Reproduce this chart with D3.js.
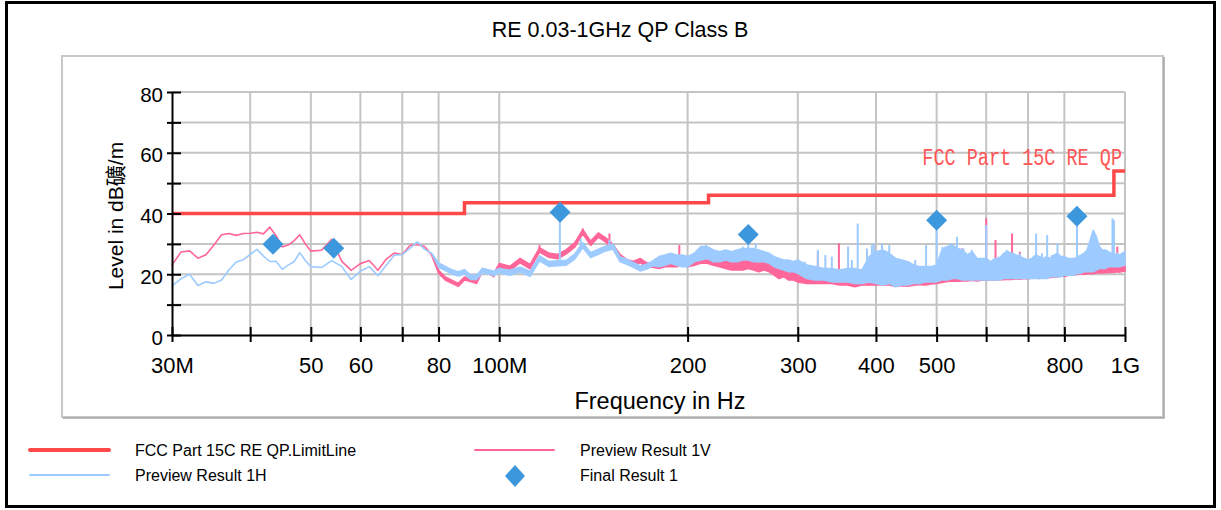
<!DOCTYPE html>
<html>
<head>
<meta charset="utf-8">
<script src="https://cdn.jsdelivr.net/npm/d3@7"></script>
<style>
  body { margin: 0; background: #fff; }
  text { font-family: "Liberation Sans", Arial, "Noto Sans CJK SC", sans-serif; fill: #000; }
</style>
</head>
<body>
<svg id="chart" width="1221" height="510"></svg>
<script>
// Sweep frequencies (MHz) shared by both preview scans
const sweepMHz = [
  30,31,32,33,34,35,36,37,38,39,40,41,42,43,44,45,46,47,48,49,50,
  52,54,56,58,60,62,64,66,68,70,72,74,76,78,
  80,82,84,86,88,90,92,94,96,98,100,
  104,108,112,116,120,124,128,132,136,140,144,148,152,156,160,164,168,172,176,
  180,184,188,192,196,200,
  205,210,215,220,225,230,235,240,245,250,255,260,265,270,275,280,285,290,295,300,
  310,320,330,340,350,360,370,380,390,400,410,420,
  430,440,450,460,470,480,490,500,510,520,530,540,550,560,570,580,590,600,
  610,620,630,640,650,660,670,680,690,700,710,720,730,740,750,760,770,780,790,800,
  810,820,830,840,850,860,870,880,890,900,910,920,930,940,950,960,970,980,990,1000
];

// Preview Result 1V: lower / upper edge of the trace (dBuV/m)
const vLow = [
  23.0,27.3,27.7,25.3,26.4,29.6,33.0,33.4,32.8,33.4,33.5,33.8,33.3,35.5,32.7,29.0,29.6,31.0,33.0,30.0,27.6,
  27.9,31.5,24.3,21.3,23.5,24.5,21.3,25.0,27.0,26.5,29.5,29.8,29.1,26.3,
  20.3,18.1,17.0,16.0,18.1,17.6,17.0,20.9,20.3,19.2,22.5,
  21.2,23.8,21.8,27.3,25.6,25.1,26.7,28.9,33.3,29.5,32.2,30.6,28.4,25.1,23.4,22.9,23.8,22.3,22.3,
  21.9,22.5,22.5,22.5,23.0,22.5,
  23.0,23.6,23.6,23.0,22.5,21.9,21.4,21.4,21.4,21.9,21.4,20.8,21.4,20.8,19.7,18.6,19.2,18.1,18.1,17.5,
  17.0,17.0,17.0,17.0,16.5,16.5,15.9,16.5,16.5,16.5,16.5,16.5,
  16.0,16.2,16.1,16.4,16.6,16.5,16.8,17.0,17.3,17.6,17.8,17.7,17.9,17.8,18.0,17.8,18.0,18.1,
  18.2,18.0,18.3,18.2,18.4,18.3,18.5,18.4,18.6,18.5,18.7,18.8,18.6,18.9,19.0,18.9,19.2,19.1,19.4,19.3,
  19.6,19.8,19.7,20.0,20.1,20.0,20.2,20.3,20.2,20.4,20.5,20.4,20.6,20.5,20.7,20.6,20.8,20.7,20.9,21.0
];
const vHigh = [
  23.0,27.3,27.7,25.3,26.4,29.6,33.0,33.4,32.8,33.4,33.5,33.8,33.3,35.5,32.7,29.0,29.6,31.0,33.0,30.0,27.6,
  27.9,31.5,24.3,21.3,23.5,24.5,21.3,25.0,27.0,26.5,29.5,29.8,29.1,26.3,
  21.3,19.1,18.0,17.0,19.1,18.6,18.0,21.9,21.3,20.2,23.5,
  22.6,25.2,23.2,28.7,27.0,26.5,28.1,30.3,34.7,30.9,33.6,32.0,29.8,26.5,24.8,24.3,25.2,23.7,23.7,
  24.7,25.2,24.7,25.2,25.8,24.7,
  25.8,26.3,26.3,25.8,25.2,24.7,24.1,24.1,24.7,24.7,24.1,23.6,24.1,23.6,22.5,21.4,21.9,21.4,20.8,20.3,
  19.7,19.7,19.2,19.7,19.2,19.2,18.6,18.6,18.6,19.2,19.2,18.6,
  19.4,19.2,19.5,19.8,19.6,20.0,19.9,20.3,20.6,21.0,20.8,21.2,21.5,21.0,21.3,21.1,21.4,21.6,
  21.5,21.8,21.6,22.0,22.3,22.1,21.9,22.2,22.0,21.8,22.0,22.2,21.9,22.1,22.4,22.2,22.5,22.3,22.6,22.4,
  22.7,22.9,22.6,23.0,23.2,23.4,23.1,23.5,23.6,23.4,23.7,23.5,23.8,23.6,23.9,23.7,24.0,23.8,24.1,24.2
];

// Preview Result 1H: lower / upper edge of the trace (dBuV/m)
const hLow = [
  16.2,18.5,20.0,16.3,17.5,17.0,18.1,21.5,24.0,24.8,26.5,28.2,26.0,24.2,24.3,21.6,23.0,24.1,27.1,24.5,22.5,
  22.2,24.5,22.6,18.3,21.0,22.5,19.5,23.0,26.3,26.5,28.5,30.7,28.2,26.9,
  22.3,21.2,20.1,19.4,20.1,18.3,18.3,20.5,20.1,19.6,20.5,
  19.7,20.8,19.3,24.4,22.6,22.8,23.0,25.0,28.8,25.5,26.6,27.7,28.3,24.1,23.3,22.2,21.1,21.7,22.8,
  22.5,23.0,23.6,23.0,22.5,22.5,
  24.1,24.7,25.2,24.1,24.1,24.7,24.1,24.1,24.7,24.7,24.1,24.1,24.1,23.6,22.5,21.9,21.4,20.8,20.8,20.3,
  18.6,18.1,18.1,17.5,17.5,17.5,17.0,17.0,17.5,17.0,16.5,17.0,
  15.9,16.5,16.5,17.0,17.0,17.5,17.5,17.5,18.1,18.1,18.6,18.6,18.1,18.1,18.1,18.1,18.1,18.1,
  18.1,18.1,18.1,18.6,18.6,18.6,18.6,18.6,18.6,18.6,18.6,18.6,18.6,18.6,18.6,19.2,19.2,19.2,19.2,19.7,
  19.7,19.7,19.7,20.3,20.3,20.8,20.8,20.8,20.8,21.4,21.9,21.9,21.9,22.5,22.5,22.5,22.5,22.5,22.8,23.0
];
const hHigh = [
  16.2,18.5,20.0,16.3,17.5,17.0,18.1,21.5,24.0,24.8,26.5,28.2,26.0,24.2,24.3,21.6,23.0,24.1,27.1,24.5,22.5,
  22.2,24.5,22.6,18.3,21.0,22.5,19.5,23.0,26.3,26.5,28.5,30.7,28.2,26.9,
  23.7,22.6,21.5,20.8,21.5,19.7,19.7,21.9,21.5,21.0,21.9,
  21.3,22.4,20.9,26.0,24.2,24.4,24.6,26.6,30.4,27.1,28.2,29.3,29.9,25.7,24.9,23.8,22.7,23.3,24.4,
  25.8,26.3,26.9,26.3,26.3,25.8,
  26.9,29.1,29.1,28.0,27.4,28.0,27.4,28.0,28.5,28.5,28.5,28.0,27.4,26.9,25.8,25.2,24.7,24.7,24.1,24.7,
  23.0,22.5,21.9,21.9,21.4,21.9,21.9,21.4,25.8,27.4,28.0,26.9,
  25.2,24.7,24.1,23.0,22.5,22.5,22.5,23.0,28.0,29.1,29.6,28.5,28.0,26.3,27.4,25.2,25.2,25.2,
  24.1,25.2,25.2,26.9,27.4,26.9,26.3,25.8,25.2,24.7,25.2,26.3,25.8,25.2,25.8,25.2,26.3,26.9,25.8,25.8,
  25.2,25.2,25.2,25.8,26.3,26.9,28.0,31.3,34.5,32.3,29.1,28.0,28.0,27.4,26.9,25.8,26.9,26.3,26.9,27.4
];

// Narrow peaks: [MHz, base dB, peak dB]
const vSpikes = [
  [116,28.0,29.6],[136,34.0,35.1],[144,32.9,33.4],[150,31.0,33.4],
  [194,25.0,29.6],[323,19.5,27.5],[349,19.2,30.2],[549,21.5,28.5],[600,21.6,38.4],
  [621,21.8,31.3],[660,22.1,33.4],[679,22.2,27.4],[972,24.0,29.1]
];
const hSpikes = [
  [125,24.8,40.4],[135,29.6,31.8],[150,29.6,31.3],
  [214,28.0,29.6],[245,28.0,29.1],[250,28.5,33.1],[257,28.5,30.2],
  [308,22.5,24.1],[323,22.5,28.0],[332,21.5,26.3],[340,21.5,25.8],[361,21.9,29.1],
  [366,21.5,24.7],[374,21.9,36.7],[387,24.0,28.5],[394,25.8,29.6],[397,26.0,30.2],
  [409,28.0,30.2],[420,26.9,29.6],[462,22.8,24.7],[481,22.5,29.6],
  [500,23.0,37.8],[511,26.0,29.0],[516,28.0,29.1],[527,29.5,30.2],[539,28.5,32.3],
  [552,27.5,28.5],[562,26.0,26.9],[569,27.0,28.0],[587,24.5,25.2],
  [600,25.2,36.2],[613,24.0,23.6],[628,25.0,25.8],[647,27.0,28.0],[679,25.8,26.9],
  [694,24.9,24.1],[721,26.3,33.4],[737,25.5,26.9],[751,25.8,32.9],[764,25.5,26.3],
  [780,26.9,30.2],[800,25.8,24.7],[838,25.8,39.1],[865,27.0,26.9],[930,27.5,28.0],
  [955,26.5,38.4],[960,25.8,37.8],[990,26.5,26.9]
];

// FCC Part 15C radiated emission QP limit (step changes)
const limitMHz = [30, 88, 216, 960, 1000];
const limitDb  = [40, 43.5, 46, 54, 54];

// Final QP measurement results
const finalMHz = [43.5, 54.4, 125.1, 250.0, 500.0, 838.0];
const finalDb  = [29.9, 28.6, 40.4, 33.1, 37.8, 39.1];

// Axis ticks
const xTickValues = [30,40,50,60,70,80,100,200,300,400,500,600,700,800,1000];
const xTickLabels = {30:"30M",50:"50",60:"60",80:"80",100:"100M",200:"200",300:"300",400:"400",500:"500",800:"800",1000:"1G"};
const yTickValues = [0,10,20,30,40,50,60,70,80];
const yTickLabels = [0,20,40,60,80];

const RED = "#ff4848", PINK = "#ff6699", LBLUE = "#9dcbff", BLUE = "#3d97dc";

const svg = d3.select("#chart");

// outer frame
svg.append("rect").attr("x", 6.5).attr("y", 2.5).attr("width", 1208).attr("height", 504)
  .attr("fill", "#fff").attr("stroke", "#000").attr("stroke-width", 3);

svg.append("text").attr("x", 620).attr("y", 37).attr("text-anchor", "middle")
  .attr("font-size", 21.5).text("RE 0.03-1GHz QP Class B");

// plot panel
svg.append("rect").attr("x", 62).attr("y", 56).attr("width", 1101).attr("height", 361)
  .attr("fill", "#fff").attr("stroke", "#c8c8c8").attr("stroke-width", 2);
svg.append("path").attr("d", "M1164,57V418H63").attr("fill", "none")
  .attr("stroke", "#a4a4a4").attr("stroke-width", 1.5);

const x = d3.scaleLog().domain([30, 1000]).range([172, 1125]);
const y = d3.scaleLinear().domain([0, 80]).range([335, 92]);

// grid
const grid = svg.append("g").attr("stroke", "#c4c4c4").attr("stroke-width", 2);
grid.selectAll("line.v").data(xTickValues.filter(v => v > 30)).join("line").attr("class", "v")
  .attr("x1", d => x(d)).attr("x2", d => x(d)).attr("y1", y(80)).attr("y2", y(0));
grid.selectAll("line.h").data(yTickValues.filter(v => v > 0)).join("line").attr("class", "h")
  .attr("x1", x(30)).attr("x2", x(1000)).attr("y1", d => y(d)).attr("y2", d => y(d));

// preview traces
const rows = sweepMHz.map((f, i) => ({ f, vl: vLow[i], vh: vHigh[i], hl: hLow[i], hh: hHigh[i] }));
const bandV = d3.area().x(d => x(d.f)).y0(d => y(d.vl)).y1(d => y(d.vh));
const bandH = d3.area().x(d => x(d.f)).y0(d => y(d.hl)).y1(d => y(d.hh));

const traces = svg.append("g");
traces.append("path").datum(rows).attr("d", bandV)
  .attr("fill", PINK).attr("stroke", PINK).attr("stroke-width", 1.6).attr("stroke-linejoin", "round");
traces.selectAll("line.vs").data(vSpikes).join("line").attr("class", "vs")
  .attr("x1", d => x(d[0])).attr("x2", d => x(d[0])).attr("y1", d => y(d[1])).attr("y2", d => y(d[2]))
  .attr("stroke", PINK).attr("stroke-width", 2);
traces.append("path").datum(rows).attr("d", bandH)
  .attr("fill", LBLUE).attr("stroke", LBLUE).attr("stroke-width", 1.6).attr("stroke-linejoin", "round");
traces.selectAll("line.hs").data(hSpikes).join("line").attr("class", "hs")
  .attr("x1", d => x(d[0])).attr("x2", d => x(d[0])).attr("y1", d => y(d[1])).attr("y2", d => y(d[2]))
  .attr("stroke", LBLUE).attr("stroke-width", 2);

// limit line
const limitLine = d3.line().curve(d3.curveStepAfter).x((d, i) => x(limitMHz[i])).y(d => y(d));
svg.append("path").datum(limitDb).attr("d", limitLine)
  .attr("fill", "none").attr("stroke", RED).attr("stroke-width", 3.5);

// axes
const yAxis = d3.axisLeft(y).tickValues(yTickValues)
  .tickFormat(d => yTickLabels.includes(d) ? d : "")
  .tickSize(5).tickSizeOuter(0).tickPadding(4);
const gy = svg.append("g").attr("transform", `translate(${x(30)},0)`).call(yAxis);
gy.select(".domain").attr("stroke", "#000").attr("stroke-width", 2);
gy.selectAll(".tick line").attr("x1", 9).attr("stroke", "#000").attr("stroke-width", 2);
gy.selectAll(".tick text").attr("font-size", 20.5).attr("dy", "0.45em")
  .attr("font-family", "Liberation Sans, Arial, sans-serif");

const xAxis = d3.axisBottom(x).tickValues(xTickValues)
  .tickFormat(d => xTickLabels[d] || "")
  .tickSize(7).tickSizeOuter(0).tickPadding(15);
const gx = svg.append("g").attr("transform", `translate(0,${y(0)})`).call(xAxis);
gx.select(".domain").attr("stroke", "#000").attr("stroke-width", 2);
gx.selectAll(".tick line").attr("y1", -8).attr("stroke", "#000").attr("stroke-width", 2);
gx.selectAll(".tick text").attr("font-size", 22)
  .attr("font-family", "Liberation Sans, Arial, sans-serif");

// final results
const diamond = "M0,-10.5L10.5,0L0,10.5L-10.5,0Z";
svg.append("g").selectAll("path").data(finalMHz.map((f, i) => [f, finalDb[i]])).join("path")
  .attr("d", diamond).attr("transform", d => `translate(${x(d[0])},${y(d[1])})`).attr("fill", BLUE);

// limit caption
svg.append("text").attr("transform", "translate(1122,165) scale(1,1.3)").attr("text-anchor", "end")
  .attr("font-size", 18.5).style("font-family", "'Liberation Mono', 'DejaVu Sans Mono', monospace")
  .style("fill", "#ff5555").text("FCC Part 15C RE QP");

// axis titles
svg.append("text").attr("transform", "translate(123,216) rotate(-90)").attr("text-anchor", "middle")
  .attr("font-size", 21).text("Level in dB礦/m");
svg.append("text").attr("x", 660).attr("y", 409).attr("text-anchor", "middle")
  .attr("font-size", 23.5).text("Frequency in Hz");

// legend
const legend = svg.append("g");
const legendRows = [
  { x: 30, y: 450, label: "FCC Part 15C RE QP.LimitLine", kind: "line", color: RED, w: 4 },
  { x: 475, y: 450, label: "Preview Result 1V", kind: "line", color: PINK, w: 2 },
  { x: 30, y: 475, label: "Preview Result 1H", kind: "line", color: LBLUE, w: 2 },
  { x: 475, y: 475, label: "Final Result 1", kind: "marker", color: BLUE }
];
legendRows.forEach(r => {
  if (r.kind === "line") {
    legend.append("line").attr("x1", r.x).attr("x2", r.x + 79).attr("y1", r.y).attr("y2", r.y)
      .attr("stroke", r.color).attr("stroke-width", r.w).attr("stroke-linecap", "round");
  } else {
    legend.append("path").attr("d", "M0,-11L10,0L0,11L-10,0Z")
      .attr("transform", `translate(${r.x + 40},${r.y + 1})`).attr("fill", r.color);
  }
  legend.append("text").attr("x", r.x + 105).attr("y", r.y + 6).attr("font-size", 16).text(r.label);
});
</script>
</body>
</html>
